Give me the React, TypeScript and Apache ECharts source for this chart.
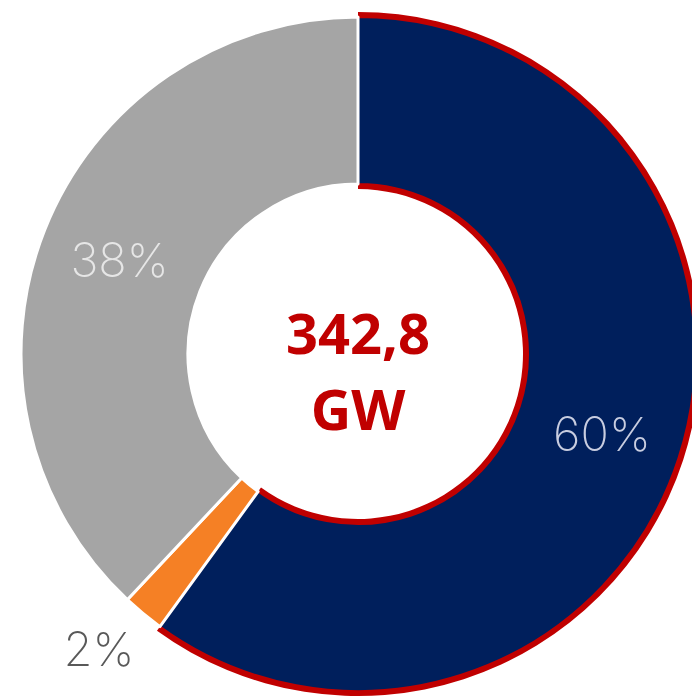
import React, { useEffect, useRef } from "react";
import * as echarts from "echarts";

const categories = ["Navy", "Orange", "Gray"];
const shares = [60, 2, 38];
const totalLabel = ["342,8", "GW"];

const sliceColors = ["#001F5C", "#F58025", "#A5A5A5"];
const labelColors = ["#C8CDE0", "#595959", "#E6E6E6"];

export default function App() {
  const ref = useRef<HTMLDivElement>(null);
  useEffect(() => {
    document.body.style.margin = "0";
    const chart = echarts.init(ref.current!, undefined, { renderer: "svg" });
    const cx = 358;
    const cy = 354;
    const mainData = categories.map((name, i) => ({
      name,
      value: shares[i],
      itemStyle: {
        color: sliceColors[i],
        borderColor: i === 0 ? "#C00000" : "#FFFFFF",
        borderWidth: i === 0 ? 2 : 3,
      },
      label:
        i === 1
          ? {
              position: "outside",
              color: labelColors[i],
              distanceToLabelLine: -20,
            }
          : { position: "inside", color: labelColors[i] },
      labelLine: { show: false, length: 45, length2: 0 },
    }));
    const backData = categories.map((name, i) => ({
      name,
      value: shares[i],
      itemStyle: { color: i === 0 ? "#C00000" : "rgba(0,0,0,0)" },
    }));
    chart.setOption({
      animation: false,
      series: [
        {
          type: "pie",
          center: [cx, cy],
          radius: [165, 342],
          startAngle: 90,
          clockwise: true,
          silent: true,
          label: { show: false },
          labelLine: { show: false },
          data: backData,
        },
        {
          type: "pie",
          center: [cx, cy],
          radius: [170, 337],
          startAngle: 90,
          clockwise: true,
          avoidLabelOverlap: false,
          label: {
            show: true,
            formatter: "{d}%",
            fontFamily: "Inter",
            fontWeight: 200,
            fontSize: 47,
          },
          data: mainData,
        },
      ],
      graphic: [
        {
          type: "text",
          x: cx,
          y: 370,
          style: {
            text: totalLabel.join("\n"),
            fill: "#C00000",
            font: "bold 56px 'Noto Sans'",
            lineHeight: 76,
            textAlign: "center",
            textVerticalAlign: "middle",
          },
        },
      ],
    });
    return () => chart.dispose();
  }, []);
  return (
    <div
      ref={ref}
      style={{ position: "fixed", left: 0, top: 0, width: 692, height: 696 }}
    />
  );
}
